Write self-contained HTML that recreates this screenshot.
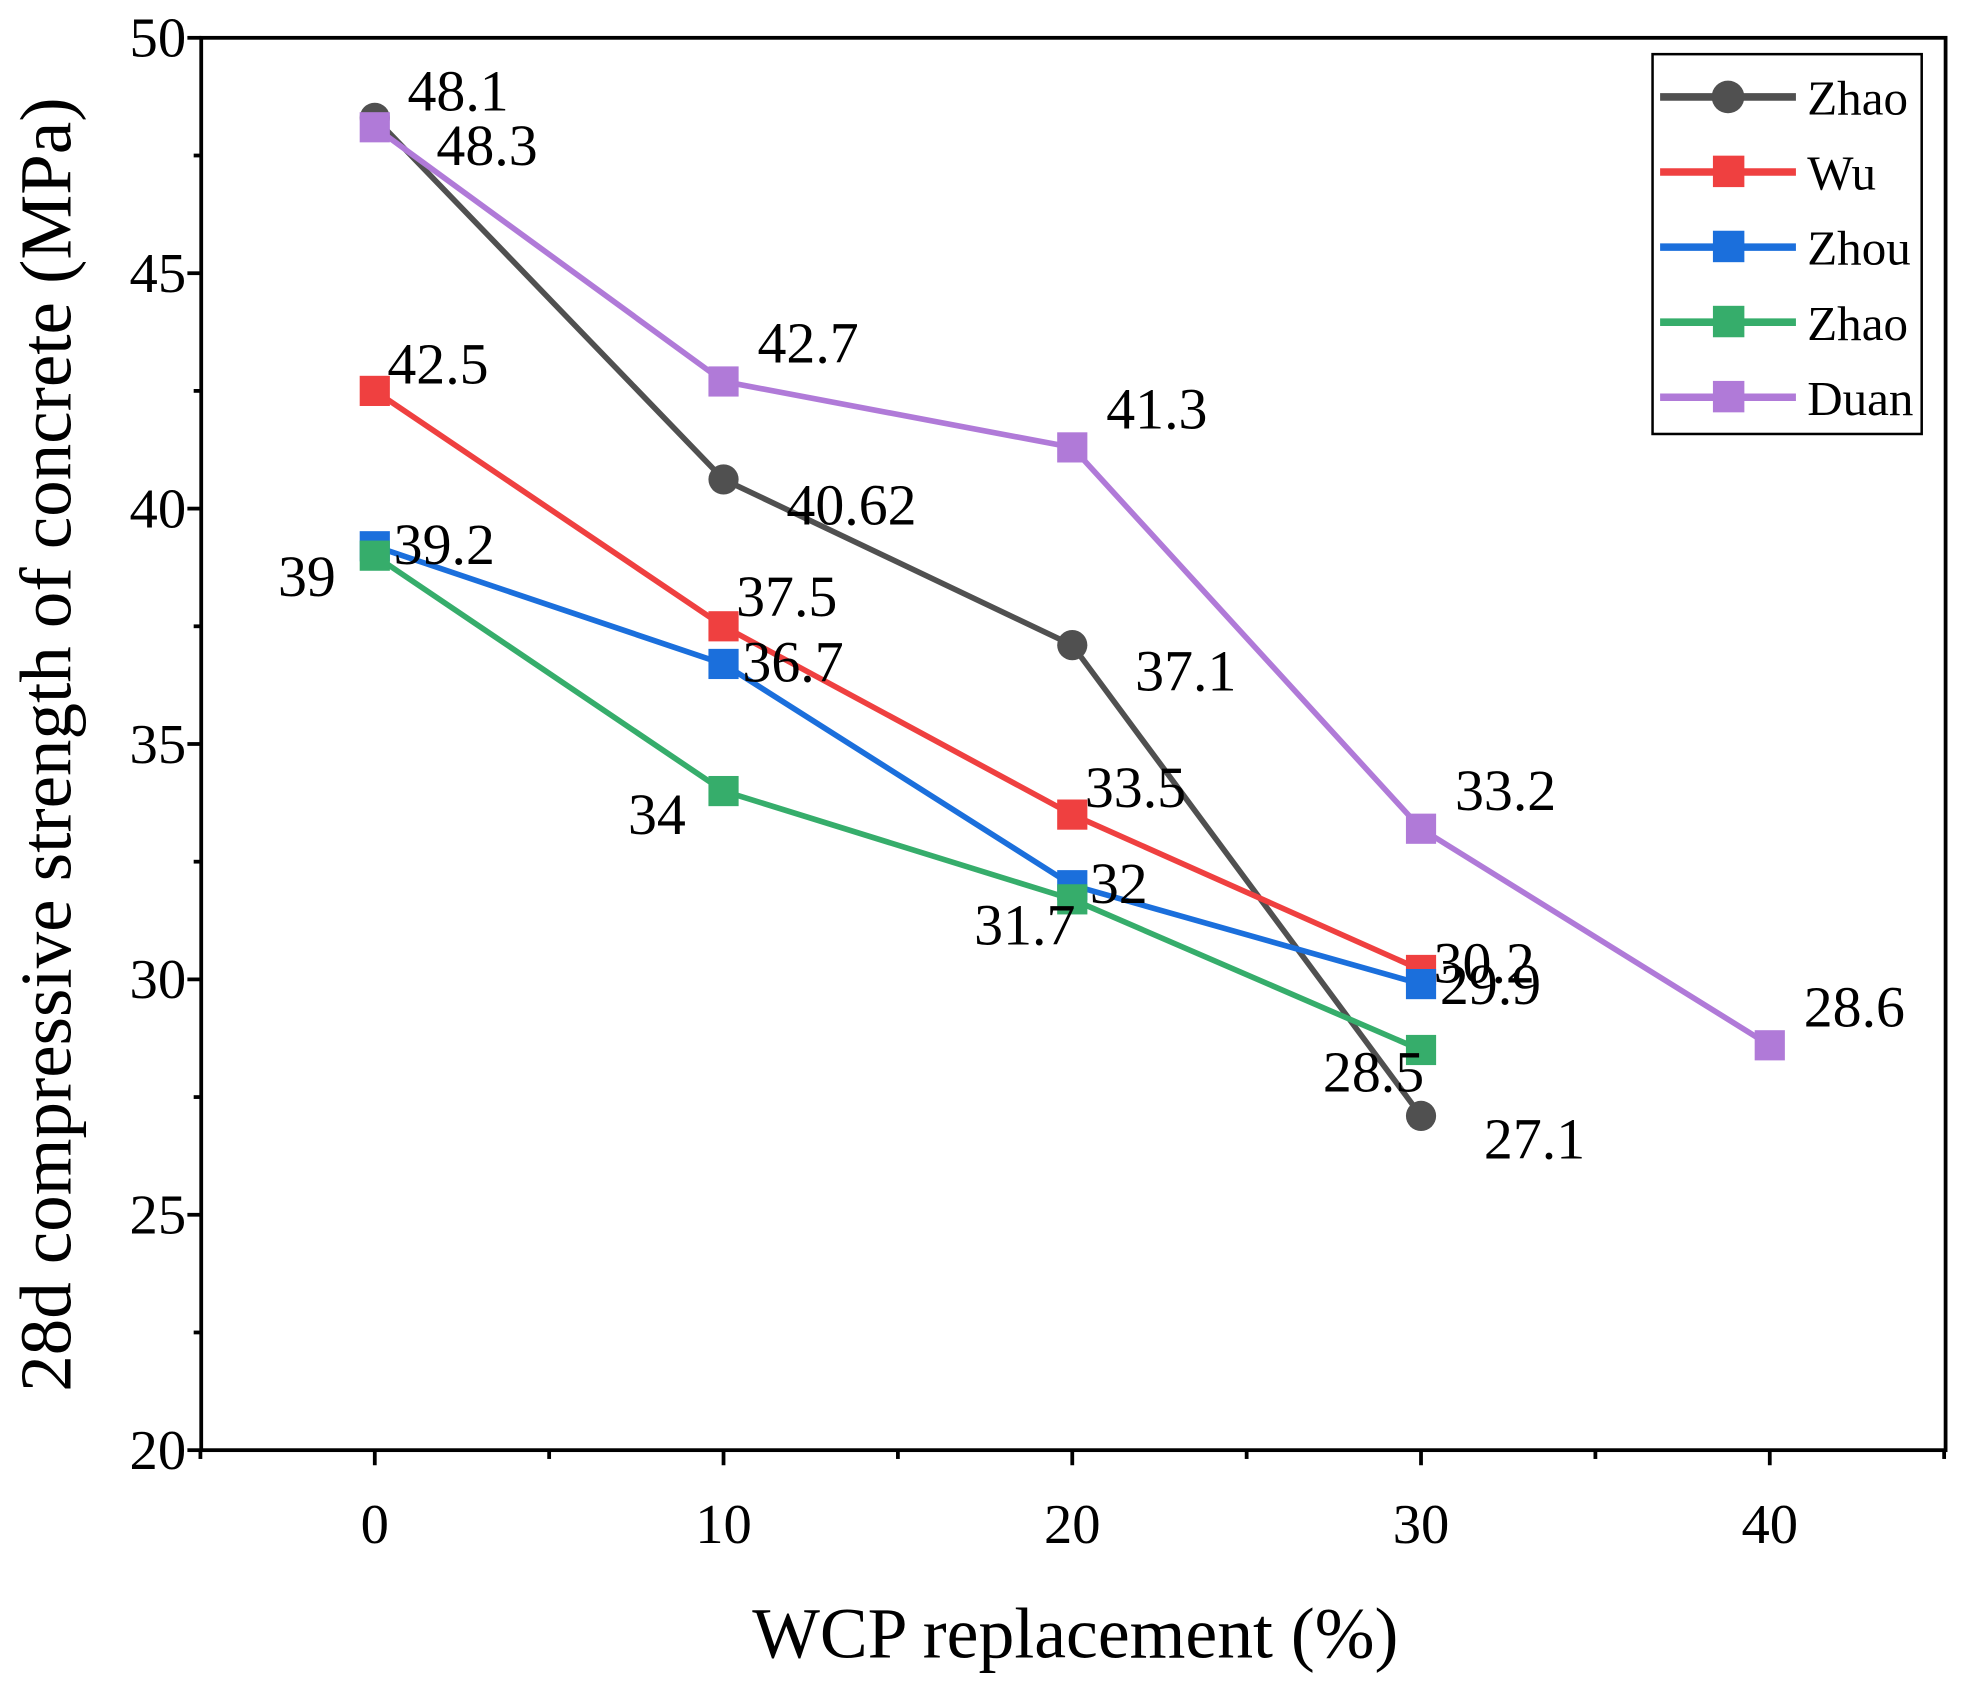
<!DOCTYPE html>
<html><head><meta charset="utf-8"><style>
html,body{margin:0;padding:0;background:#fff;}
svg{display:block;font-family:"Liberation Serif",serif;}
</style></head><body>
<svg id="chart" width="1972" height="1698" viewBox="0 0 1568 1350" xmlns="http://www.w3.org/2000/svg">
<g id="marks"></g>
</svg>
<script>
const xCats = [0, 10, 20, 30, 40];
const yTicks = [20, 25, 30, 35, 40, 45, 50];
const xTicks = [0, 10, 20, 30, 40];
const seriesNames = ["Zhao", "Wu", "Zhou", "Zhao", "Duan"];
const zhaoValues = [48.3, 40.62, 37.1, 27.1];
const wuValues = [42.5, 37.5, 33.5, 30.2];
const zhouValues = [39.2, 36.7, 32, 29.9];
const zhao2Values = [39, 34, 31.7, 28.5];
const duanValues = [48.1, 42.7, 41.3, 33.2, 28.6];
const zhaoLabels = ["48.1", "40.62", "37.1", "27.1"];
const wuLabels = ["42.5", "37.5", "33.5", "30.2"];
const zhouLabels = ["39.2", "36.7", "32", "29.9"];
const zhao2Labels = ["39", "34", "31.7", "28.5"];
const duanLabels = ["48.3", "42.7", "41.3", "33.2", "28.6"];

const NS = "http://www.w3.org/2000/svg";
const L = 160, R = 1547, T = 30, B = 1153;
function xs(v){ return 298 + v * 27.73; }
function ys(v){ return B - (v - 20) / 30 * (B - T); }
const svg = document.getElementById('chart');
function mk(tag, attrs, parent){
  const e = document.createElementNS(NS, tag);
  for (const k in attrs) e.setAttribute(k, attrs[k]);
  (parent || svg).appendChild(e);
  return e;
}
let fr = mk('rect', {x:L, y:T, width:R-L, height:B-T, fill:'none', stroke:'#000', 'stroke-width':3});


for (let v = 20; v <= 50; v += 2.5) {
  const major = v % 5 === 0;
  const t = mk('line', {x1:L, x2:L-(major?11:6), y1:ys(v), y2:ys(v), stroke:'#000', 'stroke-width':3});
  
  
}
yTicks.forEach(v => {
  const t = mk('text', {x:148, y:ys(v)+15, 'text-anchor':'end', 'font-size':45});
  t.textContent = v;
  
  
});
for (let v = -5; v <= 45; v += 5) {
  const major = v % 10 === 0;
  const t = mk('line', {x1:xs(v), x2:xs(v), y1:B, y2:B+(major?12:7), stroke:'#000', 'stroke-width':3});
  
  
}
xTicks.forEach(v => {
  const t = mk('text', {x:xs(v), y:1227, 'text-anchor':'middle', 'font-size':45});
  t.textContent = v;
  
  
});
let xt = mk('text', {x:855, y:1318, 'text-anchor':'middle', 'font-size':57});
xt.textContent = 'WCP replacement (%)';


let yt = mk('text', {x:0, y:0, 'text-anchor':'middle', 'font-size':58, transform:'translate(56,592) rotate(-90)'});
yt.textContent = '28d compressive strength of concrete (MPa)';



const series = [
  {vals:zhaoValues, labels:zhaoLabels, color:'#505050', marker:'circle', name:'zhao-series', off:[[26,-6],[50,36],[50,36],[50,34]]},
  {vals:wuValues, labels:wuLabels, color:'#ef4040', marker:'square', name:'wu-series', off:[[10,-6],[10,-8],[10,-6],[10,10]]},
  {vals:zhouValues, labels:zhouLabels, color:'#1b6fdc', marker:'square', name:'zhou-series', off:[[15,14],[15,14],[14,14],[15,16]]},
  {vals:zhao2Values, labels:zhao2Labels, color:'#36ad6b', marker:'square', name:'zhao2-series', off:[[-77,32],[-76,34],[-78,36],[-78,33]]},
  {vals:duanValues, labels:duanLabels, color:'#b07ad8', marker:'square', name:'duan-series', off:[[49,30],[27,-15],[27,-15],[27,-15],[27,-15]]}
];
series.forEach((s) => {
  const g = mk('g', {});
  
  
  const pts = s.vals.map((v,i) => xs(xCats[i]) + ',' + ys(v)).join(' ');
  const pl = mk('polyline', {points:pts, fill:'none', stroke:s.color, 'stroke-width':4.5}, g);
  
  
  s.vals.forEach((v,i) => {
    const cx = xs(xCats[i]), cy = ys(v);
    let m;
    if (s.marker === 'circle') m = mk('circle', {cx:cx, cy:cy, r:12, fill:s.color}, g);
    else m = mk('rect', {x:cx-12, y:cy-12, width:24, height:24, fill:s.color}, g);
    
    
  });
});
series.forEach(s => {
  s.vals.forEach((v,i) => {
    const t = mk('text', {x:xs(xCats[i]) + s.off[i][0], y:ys(v) + s.off[i][1], 'font-size':46});
    t.textContent = s.labels[i];
    
    
  });
});
const lg = mk('g', {});


mk('rect', {x:1314, y:43, width:214, height:302, fill:'#fff', stroke:'#000', 'stroke-width':2}, lg);
series.forEach((s, i) => {
  const y = 77 + i * 59.7;
  const e = mk('g', {}, lg);
  
  
  mk('line', {x1:1320, x2:1428, y1:y, y2:y, stroke:s.color, 'stroke-width':6}, e);
  if (s.marker === 'circle') mk('circle', {cx:1374, cy:y, r:13, fill:s.color}, e);
  else mk('rect', {x:1362, y:y-13, width:25, height:25, fill:s.color}, e);
  const t = mk('text', {x:1437, y:y+14, 'font-size':39}, e);
  t.textContent = seriesNames[i];
});
</script>
</body></html>
